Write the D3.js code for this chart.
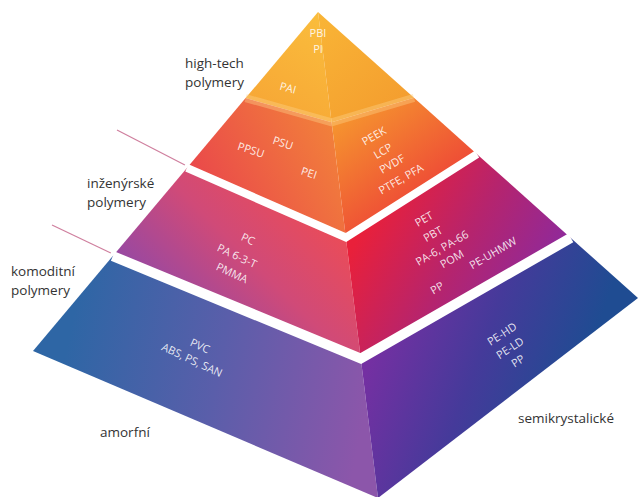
<!DOCTYPE html>
<html><head><meta charset="utf-8">
<script src="https://cdn.jsdelivr.net/npm/d3@7"></script>
<style>html,body{margin:0;padding:0;background:#fff;}svg{display:block;}</style>
</head><body>
<script>
// ---- data ----
const tierNames = [["high-tech","polymery"],["inženýrské","polymery"],["komoditní","polymery"]];
const faceNames = ["amorfní","semikrystalické"];
const apexLabels = ["PBI","PI"];
const highTechAmorf = ["PAI","PSU","PPSU","PEI"];
const highTechSemi = ["PEEK","LCP","PVDF","PTFE, PFA"];
const engAmorf = ["PC","PA 6-3-T","PMMA"];
const engSemi = ["PET","PBT","PA-6, PA-66","POM","PE-UHMW","PP"];
const comAmorf = ["PVC","ABS, PS, SAN"];
const comSemi = ["PE-HD","PE-LD","PP"];
// relative level (0 = apex, 1 = base) of tier boundaries along left edge / ridge / right edge
const levelsLeft = [0.254, 0.46, 0.72];
const levelsRidge = [0.227, 0.464, 0.713];
const levelsRight = [0.30, 0.497, 0.79];

const W = 642, H = 497;
const svg = d3.select("body").append("svg").attr("width", W).attr("height", H);
const defs = svg.append("defs");

const apex = [318, 12], cL = [33, 351], cB = [378, 498], cR = [638, 298];
const sX = (a, b) => d3.scaleLinear().domain([0, 1]).range([a[0], b[0]]);
const sY = (a, b) => d3.scaleLinear().domain([0, 1]).range([a[1], b[1]]);
const along = (a, b) => { const fx = sX(a, b), fy = sY(a, b); return t => [fx(t), fy(t)]; };
const leftEdge = along(apex, cL), ridge = along(apex, cB), rightEdge = along(apex, cR);

const Lp = [apex, ...levelsLeft.map(leftEdge), cL];
const Mp = [apex, ...levelsRidge.map(ridge), cB];
const Rp = [apex, ...levelsRight.map(rightEdge), cR];

const line = d3.line();
function grad(id, p1, p2, stops) {
  const g = defs.append("linearGradient").attr("id", id)
    .attr("gradientUnits", "userSpaceOnUse")
    .attr("x1", p1[0]).attr("y1", p1[1]).attr("x2", p2[0]).attr("y2", p2[1]);
  stops.forEach(s => g.append("stop").attr("offset", s[0]).attr("stop-color", s[1]));
  return `url(#${id})`;
}
// faces per band: index 0 = tip, 1 = lower high-tech, 2 = engineering, 3 = commodity
const leftFills = [
  grad("l0", [318,12], [262,105], [[0,"#fabd3c"],[1,"#f7a836"]]),
  grad("l1", [330,110], [200,180], [[0,"#f2823a"],[1,"#ea4a4a"]]),
  grad("l2", [310,180], [170,320], [[0,"#ef4c52"],[0.5,"#d04a78"],[1,"#9248a6"]]),
  grad("l3", [370,390], [70,330], [[0,"#8c56aa"],[0.5,"#5a5eaa"],[1,"#2e66a5"]])
];
const rightFills = [
  grad("r0", [318,12], [400,105], [[0,"#f9b536"],[1,"#f49e2f"]]),
  grad("r1", [350,100], [440,220], [[0,"#f69a2e"],[1,"#ec3838"]]),
  grad("r2", [370,215], [540,310], [[0,"#e9203a"],[0.5,"#b5246e"],[1,"#8a2aa0"]]),
  grad("r3", [370,360], [560,430], [[0,"#7430a2"],[0.5,"#453a9a"],[1,"#1f4c92"]])
];

const bands = d3.range(4);
svg.append("g").selectAll("path").data(bands).join("path")
  .attr("d", i => line(i === 0 ? [apex, Lp[1], Mp[1]] : [Lp[i], Lp[i+1], Mp[i+1], Mp[i]]) + "Z")
  .attr("fill", i => leftFills[i]);
svg.append("g").selectAll("path").data(bands).join("path")
  .attr("d", i => line(i === 0 ? [apex, Mp[1], Rp[1]] : [Mp[i], Mp[i+1], Rp[i+1], Rp[i]]) + "Z")
  .attr("fill", i => rightFills[i]);

// light band inside high-tech tier
svg.append("path").attr("d", line([Lp[1], Mp[1], Rp[1]]))
  .attr("fill", "none").attr("stroke", "#fcd38a").attr("stroke-opacity", 0.4).attr("stroke-width", 8);
// white gaps between tiers
svg.append("g").selectAll("path").data([2, 3]).join("path")
  .attr("d", i => line([Lp[i], Mp[i], Rp[i]]))
  .attr("fill", "none").attr("stroke", "#fff")
  .attr("stroke-width", i => i === 2 ? 8 : 10).attr("stroke-linejoin", "miter");

// leader lines
const lead = [[[117,130], 2], [[52,225], 3]];
svg.append("g").selectAll("line").data(lead).join("line")
  .attr("x1", d => d[0][0]).attr("y1", d => d[0][1])
  .attr("x2", d => Lp[d[1]][0] - 2).attr("y2", d => Lp[d[1]][1] - 3)
  .attr("stroke", "#cf7f9e").attr("stroke-width", 1.2);

// tier names
const tierPos = [[185, 68], [87, 188], [11, 276]];
const tg = svg.append("g").attr("font-family", "Open Sans, sans-serif").attr("font-size", 13.5).attr("fill", "#333");
tierNames.forEach((t, i) => {
  t.forEach((s, j) => tg.append("text").attr("x", tierPos[i][0]).attr("y", tierPos[i][1] + j * 19).text(s));
});
tg.append("text").attr("x", 100).attr("y", 437).text(faceNames[0]);
tg.append("text").attr("x", 518).attr("y", 423).text(faceNames[1]);

// labels on faces
const items = [
  [apexLabels[0], 318, 33, 0], [apexLabels[1], 318, 49, 0],
  [highTechAmorf[0], 288, 88, 15],
  [highTechAmorf[1], 283, 143, 18], [highTechAmorf[2], 251, 150, 18], [highTechAmorf[3], 309, 173, 18],
  [highTechSemi[0], 374, 136, -30], [highTechSemi[1], 383, 151, -30], [highTechSemi[2], 392, 164, -30], [highTechSemi[3], 401, 179, -30],
  [engAmorf[0], 248, 239, 25], [engAmorf[1], 237, 256, 25], [engAmorf[2], 232, 273, 25],
  [engSemi[0], 424, 219, -30], [engSemi[1], 433, 234, -30], [engSemi[2], 442, 248, -30], [engSemi[3], 452, 259, -30],
  [engSemi[4], 493, 253, -30], [engSemi[5], 437, 288, -30],
  [comAmorf[0], 200, 346, 25], [comAmorf[1], 192, 360, 25],
  [comSemi[0], 502, 334, -33], [comSemi[1], 510, 348, -33], [comSemi[2], 518, 361, -33]
];
svg.append("g").attr("font-family", "Open Sans, sans-serif").attr("font-size", 11)
  .attr("fill", "#fff").attr("fill-opacity", 0.88).attr("text-anchor", "middle")
  .selectAll("text").data(items).join("text")
  .attr("transform", d => `translate(${d[1]},${d[2]}) rotate(${d[3]})`)
  .attr("dy", "0.35em").text(d => d[0]);
</script>
</body></html>
